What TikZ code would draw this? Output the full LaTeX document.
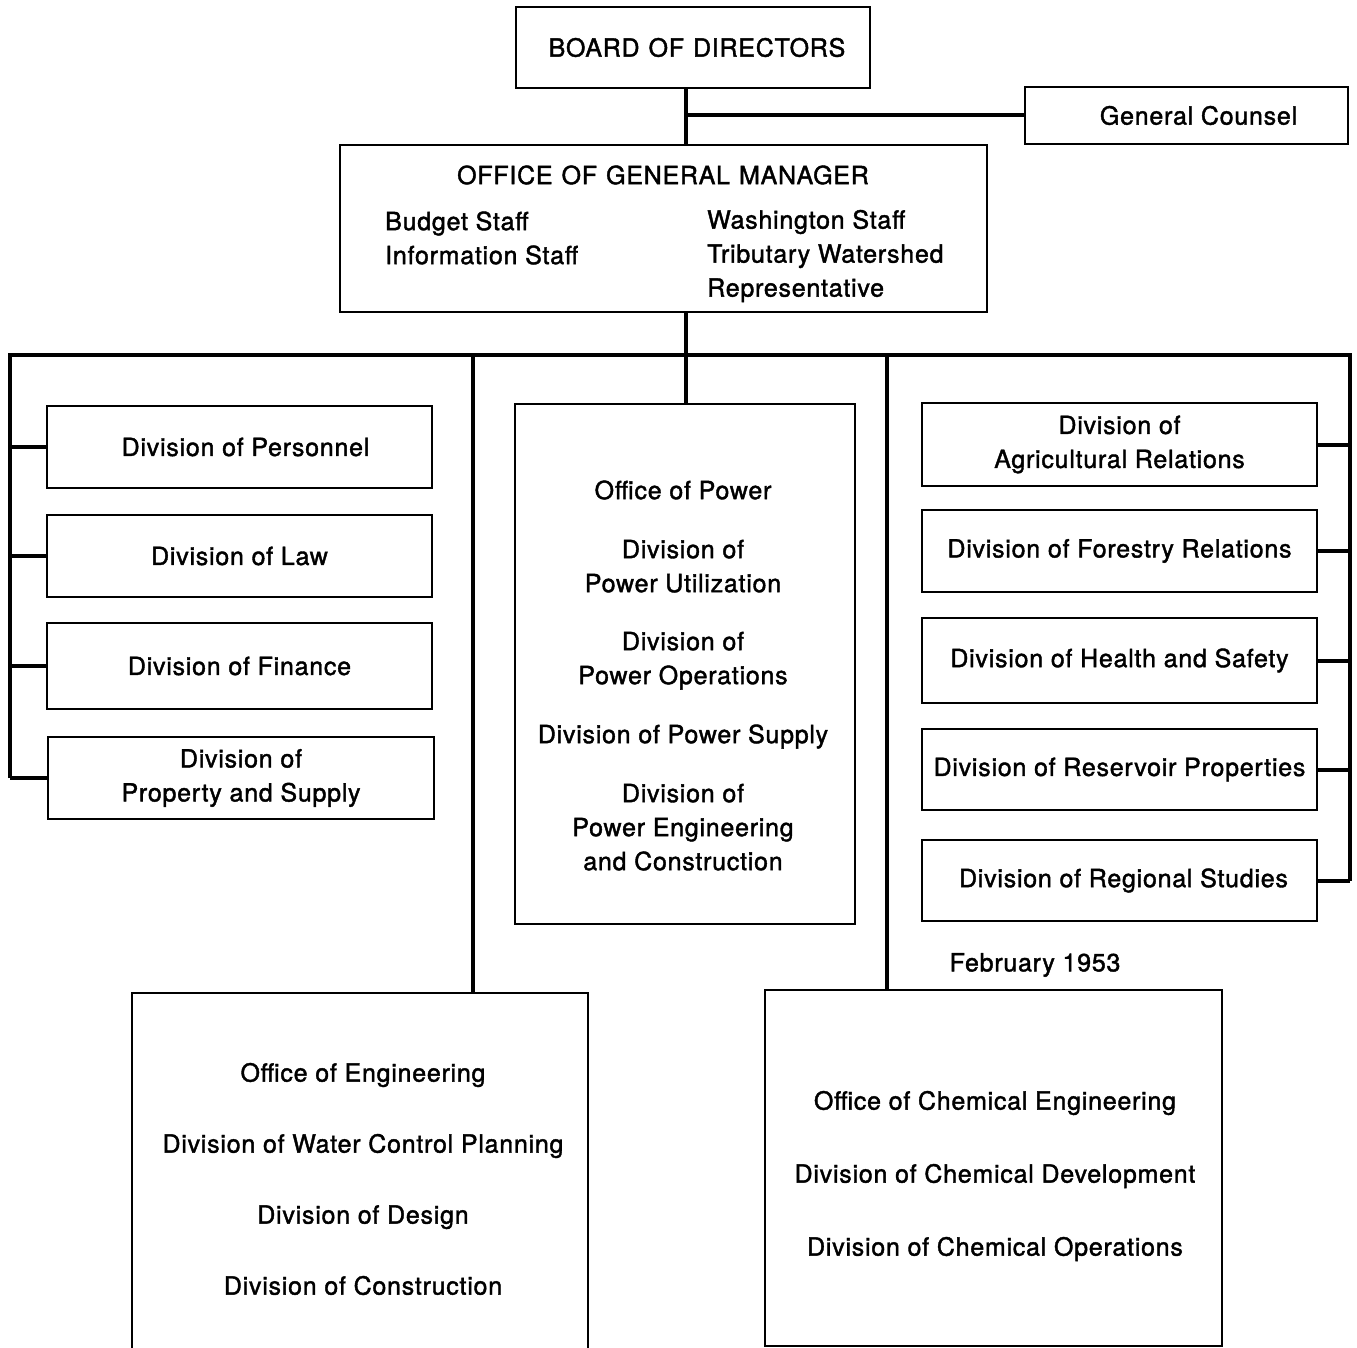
\documentclass[tikz,border=0pt]{standalone}
\usepackage{fontspec}
\setmainfont{TeX Gyre Heros}[LetterSpace=3,FakeBold=1.6]
\begin{document}
\begin{tikzpicture}[x=1pt,y=-1pt,
  box/.style={draw,line width=2pt,inner sep=0pt,align=center},
  conn/.style={line width=4pt},
  txt/.style={inner sep=0pt,align=center},
  every node/.append style={font=\fontsize{25}{34}\selectfont}]
\useasboundingbox (0,0) rectangle (1357,1348);
\clip (0,0) rectangle (1357,1348);

% top of the organisation
\node[box,minimum width=354pt,minimum height=81pt] (board) at (693,47.5) {\hspace*{8pt}BOARD\hspace{9pt}OF\hspace{9pt}DIRECTORS};
\node[box,minimum width=323pt,minimum height=57pt] (counsel) at (1186.5,115.5) {\hspace*{24pt}General Counsel};
\node[box,minimum width=647pt,minimum height=167pt] (ogm) at (663.5,228.5) {};
\node[txt] (ogmtitle) at (663,175) {OFFICE\hspace{9pt}OF\hspace{9pt}GENERAL\hspace{9pt}MANAGER};
\node[txt,anchor=west,align=left] (ogmleft) at (385,238) {Budget Staff\\Information Staff};
\node[txt,anchor=west,align=left] (ogmright) at (707,256) {Washington Staff\\Tributary Watershed\\Representative};

% left column of divisions
\node[box,minimum width=385pt,minimum height=82pt] (pers) at (239.5,447) {\hspace*{12pt}Division of Personnel};
\node[box,minimum width=385pt,minimum height=82pt] (law) at (239.5,556) {Division of Law};
\node[box,minimum width=385pt,minimum height=86pt] (fin) at (239.5,666) {Division of Finance};
\node[box,minimum width=386pt,minimum height=82pt] (prop) at (241,778) {Division of\\Property and Supply};

% power
\node[box,minimum width=340pt,minimum height=520pt] (power) at (685,664) {};
\node[txt] (powertxt) at (683,675.5) {Office of Power\\[25pt]Division of\\Power Utilization\\[24pt]Division of\\Power Operations\\[25pt]Division of Power Supply\\[25pt]Division of\\Power Engineering\\and Construction};

% right column of divisions
\node[box,minimum width=395pt,minimum height=83pt] (agr) at (1119.5,444.5) {Division of\\Agricultural Relations};
\node[box,minimum width=395pt,minimum height=82pt] (forest) at (1119.5,551) {Division of Forestry Relations};
\node[box,minimum width=395pt,minimum height=85pt] (health) at (1119.5,660.5) {Division of Health and Safety};
\node[box,minimum width=395pt,minimum height=81pt] (res) at (1119.5,769.5) {Division of Reservoir Properties};
\node[box,minimum width=395pt,minimum height=81pt] (reg) at (1119.5,880.5) {\hspace*{8pt}Division of Regional Studies};

\node[txt] (date) at (1035,965) {February 1953};

% engineering and chemical engineering
\node[box,minimum width=456pt,minimum height=377pt] (eng) at (360,1181.5) {};
\node[txt] (engtxt) at (363,1179) {Office of Engineering\\[37pt]Division of Water Control Planning\\[37pt]Division of Design\\[37pt]Division of Construction};
\node[box,minimum width=457pt,minimum height=356pt] (chem) at (993.5,1168) {};
\node[txt] (chemtxt) at (995,1176) {Office of Chemical Engineering\\[39pt]Division of Chemical Development\\[39pt]Division of Chemical Operations};

% connectors
\coordinate (spine) at (686,355);
\coordinate (bl) at (10,355);
\coordinate (br) at (1350,355);
\coordinate (engdrop) at (473,355);
\coordinate (chemdrop) at (887,355);

\draw[conn] (board.south -| spine) -- (ogm.north -| spine);
\draw[conn] (spine |- counsel.west) -- (counsel.west);
\draw[conn] (ogm.south -| spine) -- (spine);
\draw[conn] (bl |- prop.west) -- (bl) -- (br) -- (br |- reg.east);
\draw[conn] (spine) -- (power.north -| spine);
\draw[conn] (engdrop) -- (eng.north -| engdrop);
\draw[conn] (chemdrop) -- (chem.north -| chemdrop);

\foreach \b in {pers,law,fin,prop}
  \draw[conn] (bl |- \b.west) -- (\b.west);
\foreach \b in {agr,forest,health,res,reg}
  \draw[conn] (\b.east) -- (br |- \b.east);
\end{tikzpicture}
\end{document}
